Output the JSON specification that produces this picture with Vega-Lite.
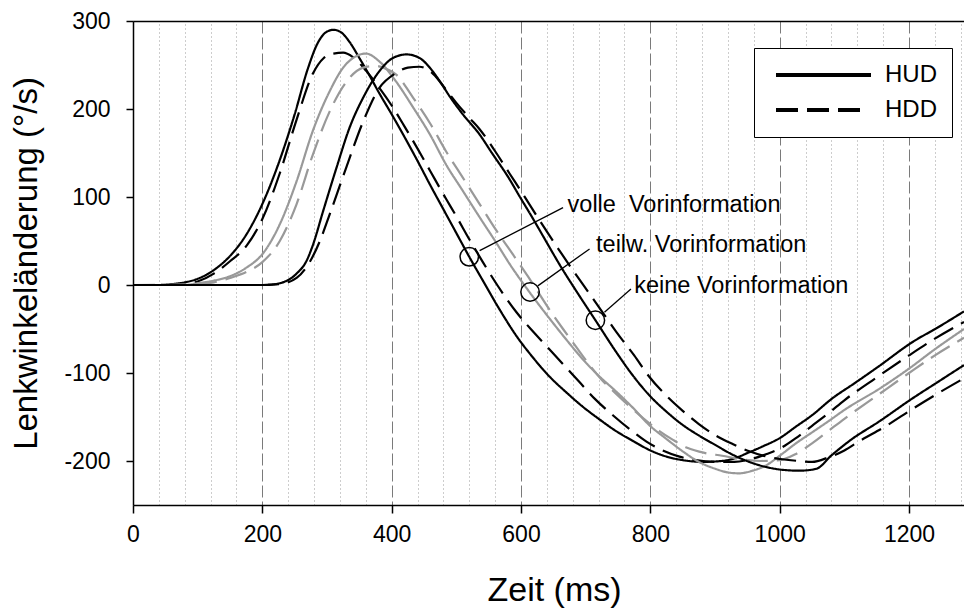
{
"$schema":"https://vega.github.io/schema/vega-lite/v6.json",
"width":831,"height":484,
"autosize":{"type":"none"},
"padding":{"left":133,"top":21,"right":0,"bottom":103},
"background":"white",
"config":{"view":{"stroke":null},"font":"Liberation Sans","axis":{"labelFont":"Liberation Sans","titleFont":"Liberation Sans"},"legend":{"labelFont":"Liberation Sans"}},
"datasets":{
"curves":[
{"t":0,"v":0,"info":"volle","display":"HUD"},{"t":40,"v":0,"info":"volle","display":"HUD"},{"t":60,"v":1,"info":"volle","display":"HUD"},{"t":80,"v":3,"info":"volle","display":"HUD"},{"t":100,"v":7,"info":"volle","display":"HUD"},{"t":125,"v":17,"info":"volle","display":"HUD"},{"t":150,"v":33,"info":"volle","display":"HUD"},{"t":175,"v":57,"info":"volle","display":"HUD"},{"t":200,"v":92,"info":"volle","display":"HUD"},{"t":225,"v":138,"info":"volle","display":"HUD"},{"t":250,"v":194,"info":"volle","display":"HUD"},{"t":270,"v":245,"info":"volle","display":"HUD"},{"t":285,"v":274,"info":"volle","display":"HUD"},{"t":298,"v":287,"info":"volle","display":"HUD"},{"t":310,"v":290,"info":"volle","display":"HUD"},{"t":322,"v":287,"info":"volle","display":"HUD"},{"t":335,"v":276,"info":"volle","display":"HUD"},{"t":350,"v":258,"info":"volle","display":"HUD"},{"t":365,"v":239,"info":"volle","display":"HUD"},{"t":380,"v":219,"info":"volle","display":"HUD"},{"t":400,"v":194,"info":"volle","display":"HUD"},{"t":420,"v":168,"info":"volle","display":"HUD"},{"t":440,"v":141,"info":"volle","display":"HUD"},{"t":460,"v":113,"info":"volle","display":"HUD"},{"t":480,"v":86,"info":"volle","display":"HUD"},{"t":500,"v":59,"info":"volle","display":"HUD"},{"t":520,"v":32,"info":"volle","display":"HUD"},{"t":541,"v":5,"info":"volle","display":"HUD"},{"t":567,"v":-28,"info":"volle","display":"HUD"},{"t":593,"v":-58,"info":"volle","display":"HUD"},{"t":618,"v":-82,"info":"volle","display":"HUD"},{"t":644,"v":-104,"info":"volle","display":"HUD"},{"t":670,"v":-122,"info":"volle","display":"HUD"},{"t":695,"v":-138,"info":"volle","display":"HUD"},{"t":720,"v":-152,"info":"volle","display":"HUD"},{"t":747,"v":-166,"info":"volle","display":"HUD"},{"t":775,"v":-178,"info":"volle","display":"HUD"},{"t":800,"v":-188,"info":"volle","display":"HUD"},{"t":825,"v":-195,"info":"volle","display":"HUD"},{"t":850,"v":-199,"info":"volle","display":"HUD"},{"t":880,"v":-201,"info":"volle","display":"HUD"},{"t":910,"v":-200,"info":"volle","display":"HUD"},{"t":930,"v":-197,"info":"volle","display":"HUD"},{"t":950,"v":-191,"info":"volle","display":"HUD"},{"t":975,"v":-183,"info":"volle","display":"HUD"},{"t":1000,"v":-174,"info":"volle","display":"HUD"},{"t":1025,"v":-161,"info":"volle","display":"HUD"},{"t":1050,"v":-148,"info":"volle","display":"HUD"},{"t":1081,"v":-129,"info":"volle","display":"HUD"},{"t":1115,"v":-112,"info":"volle","display":"HUD"},{"t":1154,"v":-92,"info":"volle","display":"HUD"},{"t":1205,"v":-65,"info":"volle","display":"HUD"},{"t":1245,"v":-48,"info":"volle","display":"HUD"},{"t":1285,"v":-30,"info":"volle","display":"HUD"},
{"t":0,"v":0,"info":"volle","display":"HDD"},{"t":60,"v":0,"info":"volle","display":"HDD"},{"t":80,"v":1,"info":"volle","display":"HDD"},{"t":100,"v":4,"info":"volle","display":"HDD"},{"t":125,"v":13,"info":"volle","display":"HDD"},{"t":150,"v":27,"info":"volle","display":"HDD"},{"t":176,"v":45,"info":"volle","display":"HDD"},{"t":200,"v":75,"info":"volle","display":"HDD"},{"t":227,"v":127,"info":"volle","display":"HDD"},{"t":253,"v":188,"info":"volle","display":"HDD"},{"t":278,"v":240,"info":"volle","display":"HDD"},{"t":295,"v":258,"info":"volle","display":"HDD"},{"t":310,"v":263,"info":"volle","display":"HDD"},{"t":325,"v":264,"info":"volle","display":"HDD"},{"t":340,"v":259,"info":"volle","display":"HDD"},{"t":361,"v":243,"info":"volle","display":"HDD"},{"t":380,"v":225,"info":"volle","display":"HDD"},{"t":400,"v":204,"info":"volle","display":"HDD"},{"t":420,"v":180,"info":"volle","display":"HDD"},{"t":440,"v":155,"info":"volle","display":"HDD"},{"t":460,"v":129,"info":"volle","display":"HDD"},{"t":484,"v":98,"info":"volle","display":"HDD"},{"t":500,"v":78,"info":"volle","display":"HDD"},{"t":520,"v":52,"info":"volle","display":"HDD"},{"t":541,"v":26,"info":"volle","display":"HDD"},{"t":565,"v":-2,"info":"volle","display":"HDD"},{"t":593,"v":-31,"info":"volle","display":"HDD"},{"t":620,"v":-54,"info":"volle","display":"HDD"},{"t":640,"v":-70,"info":"volle","display":"HDD"},{"t":665,"v":-90,"info":"volle","display":"HDD"},{"t":690,"v":-110,"info":"volle","display":"HDD"},{"t":715,"v":-130,"info":"volle","display":"HDD"},{"t":742,"v":-148,"info":"volle","display":"HDD"},{"t":770,"v":-165,"info":"volle","display":"HDD"},{"t":794,"v":-178,"info":"volle","display":"HDD"},{"t":819,"v":-188,"info":"volle","display":"HDD"},{"t":845,"v":-195,"info":"volle","display":"HDD"},{"t":870,"v":-199,"info":"volle","display":"HDD"},{"t":900,"v":-201,"info":"volle","display":"HDD"},{"t":930,"v":-201,"info":"volle","display":"HDD"},{"t":955,"v":-198,"info":"volle","display":"HDD"},{"t":980,"v":-192,"info":"volle","display":"HDD"},{"t":1000,"v":-186,"info":"volle","display":"HDD"},{"t":1025,"v":-174,"info":"volle","display":"HDD"},{"t":1050,"v":-160,"info":"volle","display":"HDD"},{"t":1075,"v":-146,"info":"volle","display":"HDD"},{"t":1100,"v":-131,"info":"volle","display":"HDD"},{"t":1150,"v":-105,"info":"volle","display":"HDD"},{"t":1200,"v":-80,"info":"volle","display":"HDD"},{"t":1240,"v":-61,"info":"volle","display":"HDD"},{"t":1285,"v":-42,"info":"volle","display":"HDD"},
{"t":0,"v":0,"info":"teilw.","display":"HUD"},{"t":80,"v":0,"info":"teilw.","display":"HUD"},{"t":100,"v":2,"info":"teilw.","display":"HUD"},{"t":125,"v":5,"info":"teilw.","display":"HUD"},{"t":150,"v":10,"info":"teilw.","display":"HUD"},{"t":176,"v":20,"info":"teilw.","display":"HUD"},{"t":200,"v":35,"info":"teilw.","display":"HUD"},{"t":227,"v":69,"info":"teilw.","display":"HUD"},{"t":253,"v":118,"info":"teilw.","display":"HUD"},{"t":278,"v":175,"info":"teilw.","display":"HUD"},{"t":304,"v":220,"info":"teilw.","display":"HUD"},{"t":325,"v":247,"info":"teilw.","display":"HUD"},{"t":345,"v":260,"info":"teilw.","display":"HUD"},{"t":360,"v":263,"info":"teilw.","display":"HUD"},{"t":381,"v":254,"info":"teilw.","display":"HUD"},{"t":407,"v":231,"info":"teilw.","display":"HUD"},{"t":433,"v":202,"info":"teilw.","display":"HUD"},{"t":460,"v":170,"info":"teilw.","display":"HUD"},{"t":484,"v":137,"info":"teilw.","display":"HUD"},{"t":510,"v":107,"info":"teilw.","display":"HUD"},{"t":536,"v":77,"info":"teilw.","display":"HUD"},{"t":560,"v":50,"info":"teilw.","display":"HUD"},{"t":585,"v":21,"info":"teilw.","display":"HUD"},{"t":613,"v":-8,"info":"teilw.","display":"HUD"},{"t":644,"v":-38,"info":"teilw.","display":"HUD"},{"t":670,"v":-62,"info":"teilw.","display":"HUD"},{"t":695,"v":-84,"info":"teilw.","display":"HUD"},{"t":720,"v":-103,"info":"teilw.","display":"HUD"},{"t":747,"v":-121,"info":"teilw.","display":"HUD"},{"t":775,"v":-141,"info":"teilw.","display":"HUD"},{"t":798,"v":-159,"info":"teilw.","display":"HUD"},{"t":825,"v":-175,"info":"teilw.","display":"HUD"},{"t":850,"v":-189,"info":"teilw.","display":"HUD"},{"t":875,"v":-201,"info":"teilw.","display":"HUD"},{"t":901,"v":-209,"info":"teilw.","display":"HUD"},{"t":920,"v":-213,"info":"teilw.","display":"HUD"},{"t":937,"v":-214,"info":"teilw.","display":"HUD"},{"t":958,"v":-211,"info":"teilw.","display":"HUD"},{"t":979,"v":-205,"info":"teilw.","display":"HUD"},{"t":1000,"v":-194,"info":"teilw.","display":"HUD"},{"t":1025,"v":-180,"info":"teilw.","display":"HUD"},{"t":1051,"v":-167,"info":"teilw.","display":"HUD"},{"t":1075,"v":-155,"info":"teilw.","display":"HUD"},{"t":1100,"v":-142,"info":"teilw.","display":"HUD"},{"t":1154,"v":-118,"info":"teilw.","display":"HUD"},{"t":1200,"v":-95,"info":"teilw.","display":"HUD"},{"t":1240,"v":-73,"info":"teilw.","display":"HUD"},{"t":1285,"v":-50,"info":"teilw.","display":"HUD"},
{"t":0,"v":0,"info":"teilw.","display":"HDD"},{"t":100,"v":1,"info":"teilw.","display":"HDD"},{"t":125,"v":3,"info":"teilw.","display":"HDD"},{"t":150,"v":8,"info":"teilw.","display":"HDD"},{"t":176,"v":15,"info":"teilw.","display":"HDD"},{"t":200,"v":26,"info":"teilw.","display":"HDD"},{"t":227,"v":50,"info":"teilw.","display":"HDD"},{"t":253,"v":92,"info":"teilw.","display":"HDD"},{"t":278,"v":148,"info":"teilw.","display":"HDD"},{"t":304,"v":197,"info":"teilw.","display":"HDD"},{"t":330,"v":231,"info":"teilw.","display":"HDD"},{"t":356,"v":247,"info":"teilw.","display":"HDD"},{"t":375,"v":249,"info":"teilw.","display":"HDD"},{"t":390,"v":246,"info":"teilw.","display":"HDD"},{"t":407,"v":239,"info":"teilw.","display":"HDD"},{"t":433,"v":213,"info":"teilw.","display":"HDD"},{"t":460,"v":183,"info":"teilw.","display":"HDD"},{"t":484,"v":152,"info":"teilw.","display":"HDD"},{"t":510,"v":122,"info":"teilw.","display":"HDD"},{"t":536,"v":92,"info":"teilw.","display":"HDD"},{"t":560,"v":64,"info":"teilw.","display":"HDD"},{"t":590,"v":32,"info":"teilw.","display":"HDD"},{"t":615,"v":5,"info":"teilw.","display":"HDD"},{"t":644,"v":-28,"info":"teilw.","display":"HDD"},{"t":665,"v":-50,"info":"teilw.","display":"HDD"},{"t":685,"v":-70,"info":"teilw.","display":"HDD"},{"t":705,"v":-90,"info":"teilw.","display":"HDD"},{"t":724,"v":-107,"info":"teilw.","display":"HDD"},{"t":746,"v":-123,"info":"teilw.","display":"HDD"},{"t":768,"v":-138,"info":"teilw.","display":"HDD"},{"t":790,"v":-152,"info":"teilw.","display":"HDD"},{"t":814,"v":-166,"info":"teilw.","display":"HDD"},{"t":835,"v":-176,"info":"teilw.","display":"HDD"},{"t":857,"v":-185,"info":"teilw.","display":"HDD"},{"t":885,"v":-191,"info":"teilw.","display":"HDD"},{"t":911,"v":-194,"info":"teilw.","display":"HDD"},{"t":940,"v":-198,"info":"teilw.","display":"HDD"},{"t":970,"v":-200,"info":"teilw.","display":"HDD"},{"t":1000,"v":-199,"info":"teilw.","display":"HDD"},{"t":1025,"v":-192,"info":"teilw.","display":"HDD"},{"t":1050,"v":-180,"info":"teilw.","display":"HDD"},{"t":1075,"v":-166,"info":"teilw.","display":"HDD"},{"t":1100,"v":-152,"info":"teilw.","display":"HDD"},{"t":1150,"v":-126,"info":"teilw.","display":"HDD"},{"t":1200,"v":-100,"info":"teilw.","display":"HDD"},{"t":1240,"v":-80,"info":"teilw.","display":"HDD"},{"t":1285,"v":-60,"info":"teilw.","display":"HDD"},
{"t":0,"v":0,"info":"keine","display":"HUD"},{"t":180,"v":0,"info":"keine","display":"HUD"},{"t":205,"v":0,"info":"keine","display":"HUD"},{"t":227,"v":2,"info":"keine","display":"HUD"},{"t":253,"v":13,"info":"keine","display":"HUD"},{"t":268,"v":27,"info":"keine","display":"HUD"},{"t":278,"v":45,"info":"keine","display":"HUD"},{"t":294,"v":84,"info":"keine","display":"HUD"},{"t":315,"v":134,"info":"keine","display":"HUD"},{"t":335,"v":179,"info":"keine","display":"HUD"},{"t":356,"v":213,"info":"keine","display":"HUD"},{"t":381,"v":243,"info":"keine","display":"HUD"},{"t":402,"v":258,"info":"keine","display":"HUD"},{"t":423,"v":262,"info":"keine","display":"HUD"},{"t":443,"v":258,"info":"keine","display":"HUD"},{"t":460,"v":246,"info":"keine","display":"HUD"},{"t":474,"v":232,"info":"keine","display":"HUD"},{"t":490,"v":214,"info":"keine","display":"HUD"},{"t":510,"v":194,"info":"keine","display":"HUD"},{"t":536,"v":171,"info":"keine","display":"HUD"},{"t":555,"v":150,"info":"keine","display":"HUD"},{"t":579,"v":124,"info":"keine","display":"HUD"},{"t":600,"v":98,"info":"keine","display":"HUD"},{"t":618,"v":76,"info":"keine","display":"HUD"},{"t":640,"v":48,"info":"keine","display":"HUD"},{"t":659,"v":24,"info":"keine","display":"HUD"},{"t":690,"v":-12,"info":"keine","display":"HUD"},{"t":715,"v":-40,"info":"keine","display":"HUD"},{"t":747,"v":-76,"info":"keine","display":"HUD"},{"t":770,"v":-100,"info":"keine","display":"HUD"},{"t":798,"v":-125,"info":"keine","display":"HUD"},{"t":825,"v":-144,"info":"keine","display":"HUD"},{"t":850,"v":-159,"info":"keine","display":"HUD"},{"t":875,"v":-171,"info":"keine","display":"HUD"},{"t":901,"v":-182,"info":"keine","display":"HUD"},{"t":925,"v":-192,"info":"keine","display":"HUD"},{"t":953,"v":-201,"info":"keine","display":"HUD"},{"t":980,"v":-207,"info":"keine","display":"HUD"},{"t":1004,"v":-210,"info":"keine","display":"HUD"},{"t":1030,"v":-211,"info":"keine","display":"HUD"},{"t":1056,"v":-209,"info":"keine","display":"HUD"},{"t":1081,"v":-193,"info":"keine","display":"HUD"},{"t":1110,"v":-176,"info":"keine","display":"HUD"},{"t":1154,"v":-155,"info":"keine","display":"HUD"},{"t":1205,"v":-129,"info":"keine","display":"HUD"},{"t":1245,"v":-110,"info":"keine","display":"HUD"},{"t":1285,"v":-91,"info":"keine","display":"HUD"},
{"t":0,"v":0,"info":"keine","display":"HDD"},{"t":200,"v":0,"info":"keine","display":"HDD"},{"t":227,"v":1,"info":"keine","display":"HDD"},{"t":253,"v":8,"info":"keine","display":"HDD"},{"t":268,"v":20,"info":"keine","display":"HDD"},{"t":289,"v":50,"info":"keine","display":"HDD"},{"t":304,"v":80,"info":"keine","display":"HDD"},{"t":330,"v":134,"info":"keine","display":"HDD"},{"t":356,"v":186,"info":"keine","display":"HDD"},{"t":381,"v":224,"info":"keine","display":"HDD"},{"t":407,"v":241,"info":"keine","display":"HDD"},{"t":425,"v":247,"info":"keine","display":"HDD"},{"t":443,"v":248,"info":"keine","display":"HDD"},{"t":464,"v":240,"info":"keine","display":"HDD"},{"t":484,"v":222,"info":"keine","display":"HDD"},{"t":500,"v":207,"info":"keine","display":"HDD"},{"t":520,"v":190,"info":"keine","display":"HDD"},{"t":536,"v":177,"info":"keine","display":"HDD"},{"t":560,"v":152,"info":"keine","display":"HDD"},{"t":582,"v":127,"info":"keine","display":"HDD"},{"t":605,"v":101,"info":"keine","display":"HDD"},{"t":630,"v":72,"info":"keine","display":"HDD"},{"t":655,"v":44,"info":"keine","display":"HDD"},{"t":680,"v":17,"info":"keine","display":"HDD"},{"t":705,"v":-9,"info":"keine","display":"HDD"},{"t":728,"v":-33,"info":"keine","display":"HDD"},{"t":747,"v":-53,"info":"keine","display":"HDD"},{"t":775,"v":-80,"info":"keine","display":"HDD"},{"t":798,"v":-104,"info":"keine","display":"HDD"},{"t":825,"v":-126,"info":"keine","display":"HDD"},{"t":850,"v":-143,"info":"keine","display":"HDD"},{"t":875,"v":-158,"info":"keine","display":"HDD"},{"t":901,"v":-171,"info":"keine","display":"HDD"},{"t":928,"v":-181,"info":"keine","display":"HDD"},{"t":953,"v":-189,"info":"keine","display":"HDD"},{"t":980,"v":-195,"info":"keine","display":"HDD"},{"t":1004,"v":-198,"info":"keine","display":"HDD"},{"t":1030,"v":-200,"info":"keine","display":"HDD"},{"t":1050,"v":-201,"info":"keine","display":"HDD"},{"t":1075,"v":-196,"info":"keine","display":"HDD"},{"t":1100,"v":-188,"info":"keine","display":"HDD"},{"t":1122,"v":-178,"info":"keine","display":"HDD"},{"t":1165,"v":-160,"info":"keine","display":"HDD"},{"t":1205,"v":-141,"info":"keine","display":"HDD"},{"t":1245,"v":-123,"info":"keine","display":"HDD"},{"t":1285,"v":-106,"info":"keine","display":"HDD"}
],
"markers":[
{"t":520,"v":32,"tx":672,"ty":83.5,"label":"volle\u00a0 Vorinformation"},
{"t":614,"v":-8,"tx":716,"ty":38,"label":"teilw. Vorinformation"},
{"t":715,"v":-40,"tx":775,"ty":-9.5,"label":"keine Vorinformation"}
],
"leaders":[
{"t":536,"v":39,"t2":665,"v2":88},
{"t":626,"v":-1,"t2":706,"v2":41},
{"t":729,"v":-31,"t2":770,"v2":-4.5}
]
},
"layer":[
{
"data":{"name":"curves"},
"mark":{"type":"line","interpolate":"monotone","strokeWidth":2.2},
"encoding":{
"x":{"field":"t","type":"quantitative","scale":{"domain":[0,1285],"nice":false,"zero":false},
"axis":{"orient":"bottom","values":[0,200,400,600,800,1000,1200],"format":"d","grid":true,"gridDash":[12,4],"gridColor":"#7a7a7a","gridWidth":1,"domainColor":"black","domainWidth":1.5,"tickColor":"black","tickWidth":1.5,"tickSize":8,"labelFontSize":23,"labelColor":"black","labelPadding":10,"labelFlush":false,"title":"Zeit (ms)","titleFontSize":34,"titleFontWeight":"normal","titleColor":"black","titlePadding":27,"titleX":421,"titleAlign":"center"}},
"y":{"field":"v","type":"quantitative","scale":{"domain":[-250,300],"nice":false,"zero":false},
"axis":{"orient":"left","values":[-200,-100,0,100,200,300],"labelExpr":"datum.value + ''","grid":false,"domainColor":"black","domainWidth":1.5,"tickColor":"black","tickWidth":1.5,"tickSize":7,"labelFontSize":23,"labelColor":"black","labelPadding":16,"title":"Lenkwinkeländerung (°/s)","titleFontSize":33,"titleFontWeight":"normal","titleColor":"black","titlePadding":20}},
"color":{"field":"info","type":"nominal","scale":{"domain":["volle","teilw.","keine"],"range":["#000000","#999999","#000000"]},"legend":null},
"strokeDash":{"field":"display","type":"nominal","scale":{"domain":["HUD","HDD"],"range":[[1,0],[22,9]]},
"legend":{"title":null,"orient":"none","legendX":621,"legendY":27,"padding":15,"strokeColor":"black","fillColor":"white","symbolType":"M-1,0H18","symbolSize":100,"symbolStrokeWidth":4,"symbolStrokeColor":"black","labelFontSize":24,"labelColor":"black","labelOffset":92,"rowPadding":11,"labelExpr":"datum.label + '   '",
"encode":{"symbols":{"update":{"shape":{"signal":"datum.value === 'HDD' ? 'M-1,0H15.8' : 'M-1,0H18'"}}}}}}
}
},
{
"data":{"name":"markers"},
"mark":{"type":"point","shape":"circle","size":340,"filled":false,"stroke":"black","strokeWidth":1.5,"opacity":1},
"encoding":{
"x":{"field":"t","type":"quantitative","axis":{"orient":"top","values":[40,80,120,160,240,280,320,360,440,480,520,560,640,680,720,760,840,880,920,960,1040,1080,1120,1160,1240,1280],"grid":true,"gridDash":[1,3],"gridColor":"#9a9a9a","gridWidth":1,"labels":false,"ticks":false,"domain":true,"domainColor":"black","domainWidth":1.5,"title":null}},
"y":{"field":"v","type":"quantitative"}
}
},
{
"data":{"name":"leaders"},
"mark":{"type":"rule","stroke":"black","strokeWidth":1.3},
"encoding":{
"x":{"field":"t","type":"quantitative","axis":null},
"y":{"field":"v","type":"quantitative"},
"x2":{"field":"t2"},
"y2":{"field":"v2"}
}
},
{
"data":{"name":"markers"},
"mark":{"type":"text","align":"left","baseline":"alphabetic","fontSize":23.5,"font":"Liberation Sans","color":"black"},
"encoding":{
"x":{"field":"tx","type":"quantitative","axis":null},
"y":{"field":"ty","type":"quantitative"},
"text":{"field":"label"}
}
}
]
}
